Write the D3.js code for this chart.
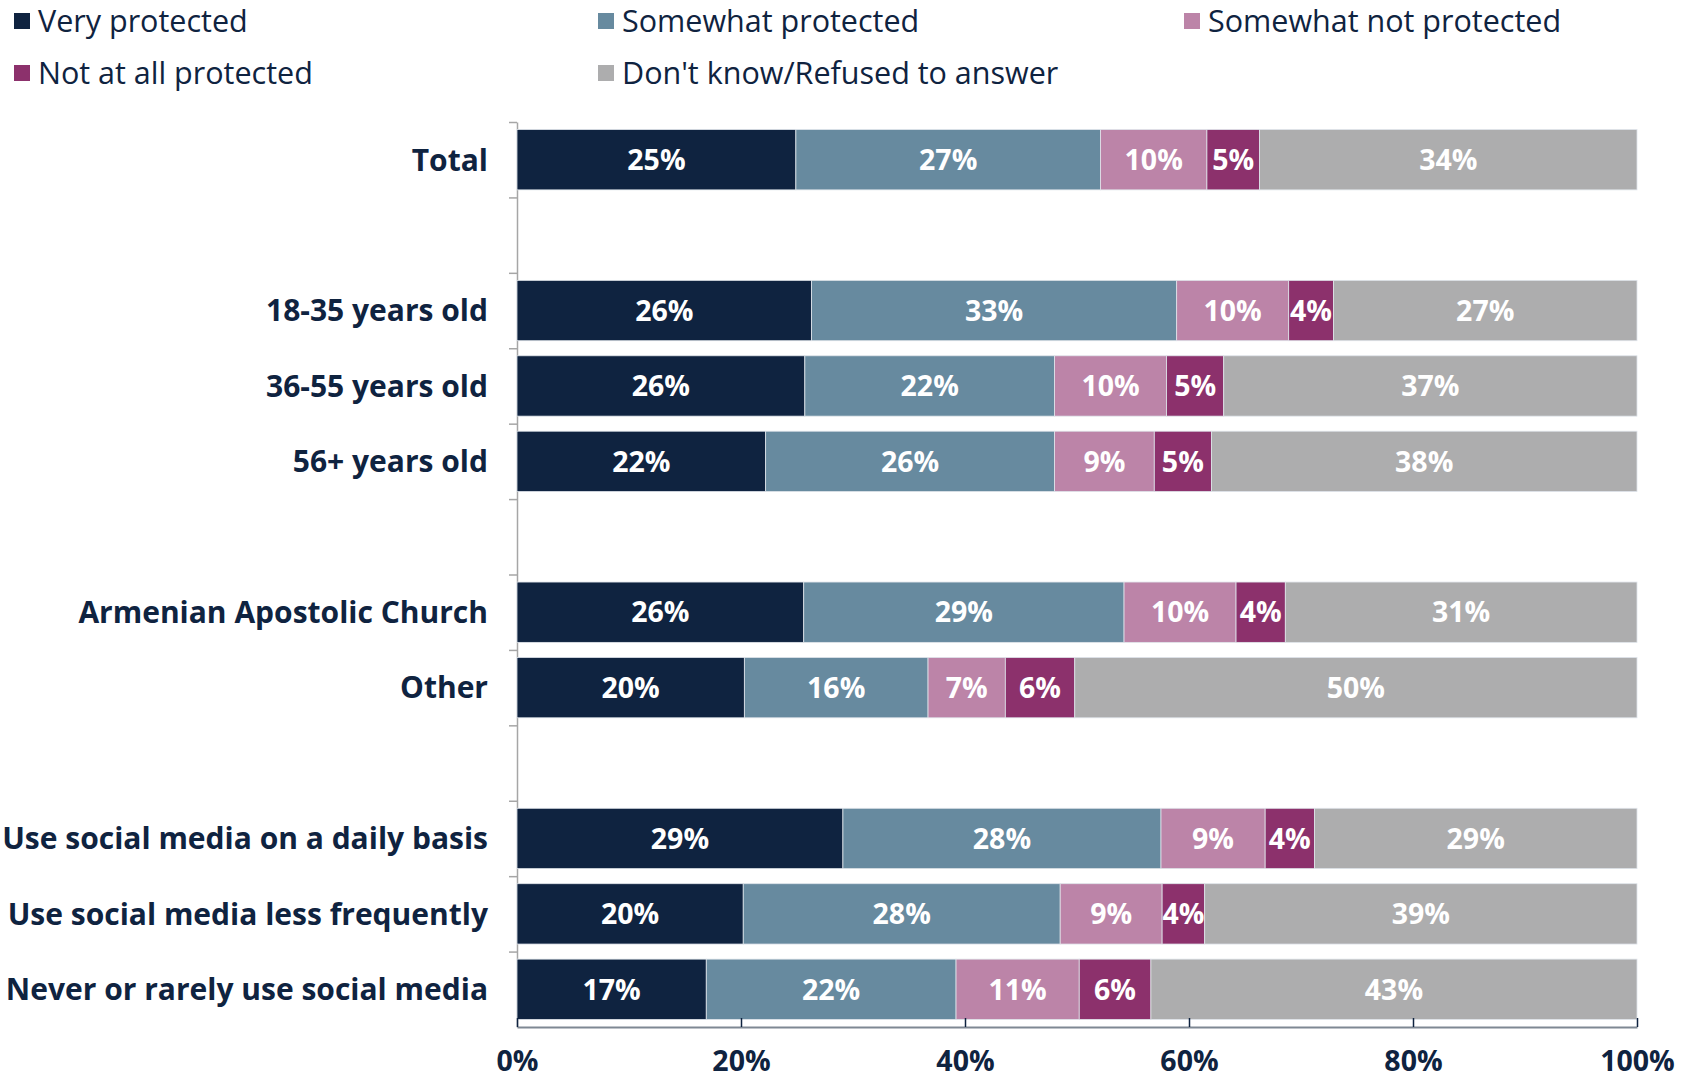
<!DOCTYPE html>
<html>
<head>
<meta charset="utf-8">
<script src="https://cdn.jsdelivr.net/npm/d3@7"></script>
<style>
    body { margin: 0; background: #fff; }
    svg { display: block; }
    text { font-family: "Open Sans", "Noto Sans", sans-serif; }
</style>
</head>
<body>
<svg id="chart" width="1693" height="1080"></svg>
<script>
"use strict";

// categories, "" marks an empty spacer row
var categories = ["Total", "", "18-35 years old", "36-55 years old", "56+ years old", "",
    "Armenian Apostolic Church", "Other", "",
    "Use social media on a daily basis", "Use social media less frequently", "Never or rarely use social media"];

var seriesNames = ["Very protected", "Somewhat protected", "Somewhat not protected",
    "Not at all protected", "Don't know/Refused to answer"];

var veryProtected      = [24.9, null, 26.3, 25.7, 22.2, null, 25.6, 20.3, null, 29.1, 20.2, 16.9];
var somewhatProtected  = [27.2, null, 32.6, 22.3, 25.8, null, 28.6, 16.4, null, 28.4, 28.3, 22.3];
var somewhatNotProt    = [9.5,  null, 10.0, 10.0, 8.9,  null, 10.0, 6.9,  null, 9.3,  9.1,  11.0];
var notAtAllProtected  = [4.7,  null, 4.0,  5.1,  5.1,  null, 4.4,  6.2,  null, 4.4,  3.8,  6.4];
var dontKnow           = [33.7, null, 27.1, 36.9, 38.0, null, 31.4, 50.2, null, 28.8, 38.6, 43.4];

var xTicks = [0, 20, 40, 60, 80, 100];

var colours = ["#0f2340", "#678a9f", "#bc84a8", "#8c316c", "#adadae"];
var navy = "#0f2340";

var svg = d3.select("#chart");

var x = d3.scaleLinear().domain([0, 100]).range([517, 1637]);
var y = d3.scaleBand().domain(d3.range(categories.length))
    .range([122, 1027]).paddingInner(0.2).paddingOuter(0.1);
var slot = d3.scaleLinear().domain([0, categories.length]).range([122, 1027]);

var rows = categories.map(function (c, i) {
    return {
        label: c,
        i: i,
        values: [veryProtected[i], somewhatProtected[i], somewhatNotProt[i], notAtAllProtected[i], dontKnow[i]]
    };
}).filter(function (r) { return r.label !== ""; });

// y axis (category boundaries)
var yAxis = svg.append("g")
    .attr("transform", "translate(" + x(0) + ",0)")
    .call(d3.axisLeft(slot).tickValues(d3.range(categories.length)).tickFormat("").tickSize(8).tickSizeOuter(0));
yAxis.select(".domain").attr("stroke", "#a6a6a6").attr("stroke-width", 1.5);
yAxis.selectAll(".tick line").attr("stroke", "#a6a6a6").attr("stroke-width", 1.5);

// bars
var rowG = svg.append("g").selectAll("g").data(rows).enter().append("g");

rowG.each(function (r) {
    var acc = 0;
    var segs = r.values.map(function (v, k) {
        var s = {x0: acc, x1: acc + v, v: v, k: k};
        acc += v;
        return s;
    });
    var g = d3.select(this);
    g.selectAll("rect").data(segs).enter().append("rect")
        .attr("x", function (s) { return x(s.x0); })
        .attr("width", function (s) { return x(s.x1) - x(s.x0); })
        .attr("y", y(r.i))
        .attr("height", y.bandwidth())
        .attr("fill", function (s) { return colours[s.k]; })
        .attr("stroke", "#dfe4ea")
        .attr("stroke-width", 0.8);
    g.selectAll("text.val").data(segs).enter().append("text")
        .attr("class", "val")
        .attr("x", function (s) { return (x(s.x0) + x(s.x1)) / 2; })
        .attr("y", y(r.i) + y.bandwidth() / 2)
        .attr("dy", "0.36em")
        .attr("text-anchor", "middle")
        .attr("fill", "#fff")
        .attr("font-size", 28.5)
        .attr("font-weight", 700)
        .text(function (s) { return Math.round(s.v) + "%"; });
});

// category labels
svg.append("g").selectAll("text").data(rows).enter().append("text")
    .attr("x", 488)
    .attr("y", function (r) { return y(r.i) + y.bandwidth() / 2; })
    .attr("dy", "0.36em")
    .attr("text-anchor", "end")
    .attr("fill", navy)
    .attr("font-size", 30)
    .attr("font-weight", 700)
    .text(function (r) { return r.label; });

// x axis
var xAxis = svg.append("g")
    .attr("transform", "translate(0,1027)")
    .call(d3.axisBottom(x).tickValues(xTicks).tickFormat(function (d) { return d + "%"; })
        .tickSizeInner(-9).tickSizeOuter(0).tickPadding(24));
xAxis.select(".domain").attr("stroke", "#7f8893").attr("stroke-width", 2);
xAxis.selectAll(".tick line").attr("stroke", navy).attr("stroke-width", 1.5);
xAxis.selectAll(".tick text")
    .attr("fill", navy)
    .attr("font-size", 28.5)
    .attr("font-weight", 700)
    .attr("font-family", "'Open Sans', sans-serif");

// legend
var legendCols = [14, 598, 1184];
var legend = svg.append("g").selectAll("g").data(seriesNames).enter().append("g")
    .attr("transform", function (d, i) {
        return "translate(" + legendCols[i % 3] + "," + (21 + Math.floor(i / 3) * 52) + ")";
    });
legend.append("rect")
    .attr("x", 0).attr("y", -8).attr("width", 16).attr("height", 16)
    .attr("fill", function (d, i) { return colours[i]; });
legend.append("text")
    .attr("x", 24)
    .attr("dy", "0.36em")
    .attr("fill", navy)
    .attr("font-size", 30.5)
    .text(function (d) { return d; });
</script>
</body>
</html>
